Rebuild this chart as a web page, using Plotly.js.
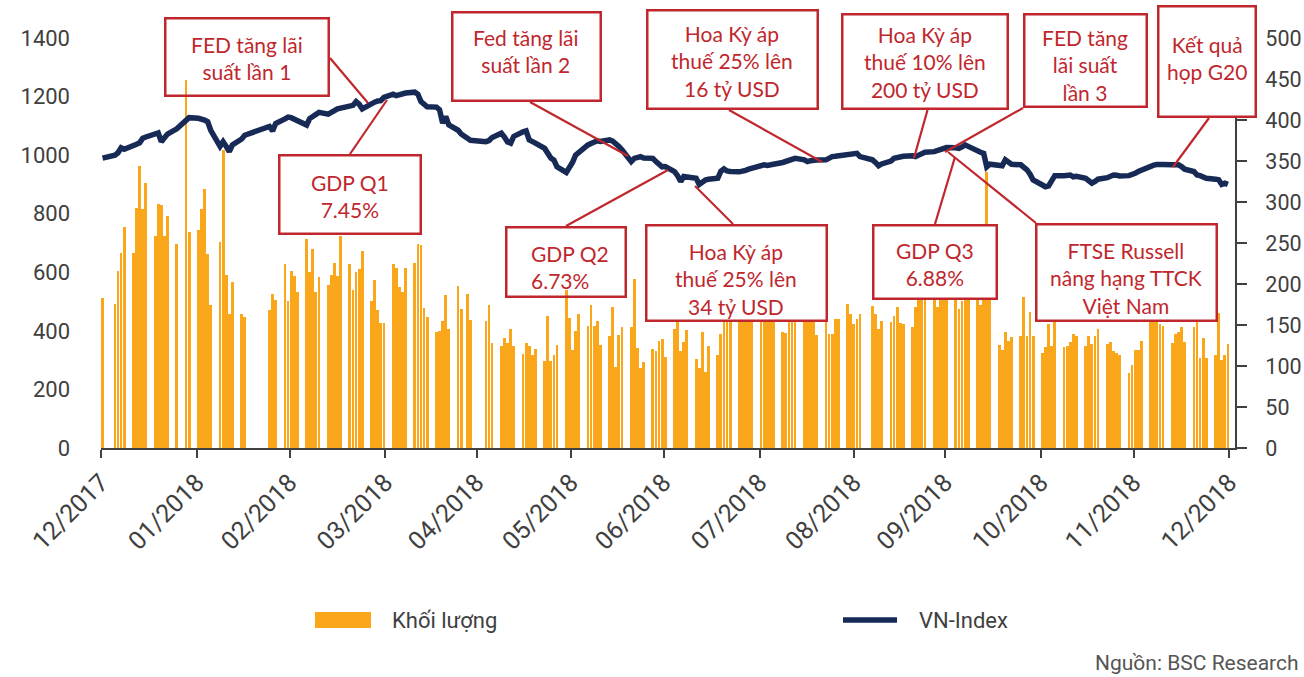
<!DOCTYPE html>
<html>
<head>
<meta charset="utf-8">
<script src="https://cdn.plot.ly/plotly-3.0.1.min.js"></script>
<style>
html,body{margin:0;padding:0;background:#fff;}
#chart{width:1304px;height:677px;}
</style>
</head>
<body>
<div id="chart"></div>
<script>
// ---------------- DATA ----------------
const monthKeys = ['2017-12','2018-01','2018-02','2018-03','2018-04','2018-05','2018-06',
                   '2018-07','2018-08','2018-09','2018-10','2018-11','2018-12'];
const tradingDayNumbers = [
  [29],
  [2,3,4,5,8,9,10,11,12,15,16,17,18,19,22,23,24,25,26,29,30,31],
  [1,2,5,6,7,8,9,12,13,21,22,23,26,27,28],
  [1,2,5,6,7,8,9,12,13,14,15,16,19,20,21,22,23,26,27,28,29,30],
  [2,3,4,5,6,9,10,11,12,13,16,17,18,19,20,23,24,26,27],
  [2,3,4,7,8,9,10,11,14,15,16,17,18,21,22,23,24,25,28,29,30,31],
  [1,4,5,6,7,8,11,12,13,14,15,18,19,20,21,22,25,26,27,28,29],
  [2,3,4,5,6,9,10,11,12,13,16,17,18,19,20,23,24,25,26,27,30,31],
  [1,2,3,6,7,8,9,10,13,14,15,16,17,20,21,22,23,24,27,28,29,30,31],
  [4,5,6,7,10,11,12,13,14,17,18,19,20,21,24,25,26,27,28],
  [1,2,3,4,5,8,9,10,11,12,15,16,17,18,19,22,23,24,25,26,29,30,31],
  [1,2,5,6,7,8,9,12,13,14,15,16,19,20,21,22,23,26,27,28,29,30],
  [3,4,5,6,7,10,11,12,13,14,17,18,19,20,21,24,25,26,27,28]
];
// VN-Index (left axis)
const vnIndexByMonth = [
  [990],
  [1000,1008,1025,1020, 1030,1037,1042,1058,1062, 1070,1076,1046,1060,1072, 1090,1100,1112,1120,1128, 1126,1124,1120],
  [1114,1085, 1030,1046,1030,1012,1035, 1055,1068, 1098,1083,1108, 1124,1130,1128],
  [1122,1120, 1103,1125,1132,1140,1146, 1140,1148,1152,1158,1160, 1165,1170,1183,1174,1158, 1178,1181,1185,1186,1197],
  [1208,1203,1206,1211,1212, 1215,1208,1183,1172,1165, 1164,1155,1109,1132,1103, 1085,1072,1060,1051],
  [1046,1050,1060, 1075,1062,1045,1041,1064, 1080,1083,1052,1048,1041, 1023,1005,990,983,960, 941,957,975,1000],
  [1010, 1035,1040,1046,1049,1047, 1052,1048,1041,1030,1018, 978,989,992,995,990, 989,978,970,960,961],
  [944,930,910,927,925, 921,900,908,915,918, 921,945,953,946,944, 943,944,948,952,955, 960,967],
  [965,968,969, 975,978,984,986,989, 984,978,981,980,983, 984,990,995,996,998, 1001,1004,1008,1006,995],
  [984,975,964,970, 980,989,992,995,996, 998,995,1000,1006,1010, 1012,1015,1018,1022,1026],
  [1025,1023,1028,1035,1030, 1012,1010,1006,960,969, 966,964,984,975,969, 967,960,950,935,915, 898,892,895],
  [912,930, 930,931,932,926,928, 921,912,904,910,918, 923,928,932,931,929, 930,933,938,944,949],
  [964,966,968,969,968, 967,967,967,961,952, 944,932,930,927,921, 918,916,900,904,900]
];
// Khối lượng (right axis)
const volumeByMonth = [
  [183],
  [176,216,238,269, 238,293,344,292,323, 259,297,296,259,283, 249,null,null,449,264, 266,292,316],
  [236,175, 251,363,211,163,202, 164,160, 168,188,180, 224,179,216],
  [210,190, 255,215,243,190,208, 199,211,226,210,259, 225,193,215,218,240, 179,205,168,153,153],
  [224,220,196,190,220, 226,249,248,171,160, 141,143,155,186,145, 197,169,188,156],
  [155,174,128, 125,134,128,145,125, 115,128,124,113,121, 106,161,106,114,126, 193,159,120,143],
  [163, 149,174,149,155,126, 136,172,99,138,147, 148,206,122,97,105, 121,118,130,133,111],
  [145,170,118,129,144, 109,97,141,93,125, 114,139,175,190,168, 180,200,172,185,165, 190,178],
  [170,185,160, 142,140,160,165,158, 170,182,175,160,138, 169,139,139,157,157, 176,164,151,157,164],
  [173,163,145,155, 154,161,172,152,151, 148,172,180,205,195, 190,172,200,185,210],
  [195,170,179,190,188, 195,174,200,337,190, 126,120,141,131,135, 136,184,136,166,137, 116,123,151],
  [125,180, 123,125,129,139,136, 125,136,127,137,145, 127,129,118,116,114, 92,101,120,120,130],
  [195,185,170,151,149, 128,139,141,147,129, 147,170,110,134,110, 113,165,107,114,127]
];
const xTickVals = ['2017-12-29','2018-01-29','2018-02-28','2018-03-31','2018-04-29 12:00','2018-05-30',
                   '2018-06-29','2018-07-30','2018-08-29 12:00','2018-09-28','2018-10-29','2018-11-28','2018-12-29'];
const xTickText = ['12/2017','01/2018','02/2018','03/2018','04/2018','05/2018','06/2018',
                   '07/2018','08/2018','09/2018','10/2018','11/2018','12/2018'];
const seriesNames = ['Khối lượng','VN-Index'];
const sourceText = 'Nguồn: BSC Research';
const calloutTexts = [
  'FED tăng lãi<br>suất lần 1',
  'Fed tăng lãi<br>suất lần 2',
  'Hoa Kỳ áp<br>thuế 25% lên<br>16 tỷ USD',
  'Hoa Kỳ áp<br>thuế 10% lên<br>200 tỷ USD',
  'FED tăng<br>lãi suất<br>lần 3',
  'Kết quả<br>họp G20',
  'GDP Q1<br>7.45%',
  'GDP Q2<br>6.73%',
  'Hoa Kỳ áp<br>thuế 25% lên<br>34 tỷ USD',
  'GDP Q3<br>6.88%',
  'FTSE Russell<br>nâng hạng TTCK<br>Việt Nam'
];

// ---------------- BUILD ----------------
const dates = [];
monthKeys.forEach((m,i)=>tradingDayNumbers[i].forEach(d=>dates.push(m+'-'+String(d).padStart(2,'0'))));
const vnIndex = vnIndexByMonth.flat();
const volume = volumeByMonth.flat();

// layout geometry (pixels)
const L=101, T=38, W=1134, H=410;
const X = px => (px-L)/W;
const Y = py => (T+H-py)/H;

const RED='#c0272d', NAVY='#172a56', ORANGE='#F9A61B', GREY='#404040';

// box geometry: [cx, cy, w, h, transparent]
const boxGeom = [
  [247,57.3,166,80,true],
  [526,56.2,151,91,false],
  [732.4,59.7,173.3,100.7,false],
  [925,61.3,168,97.3,false],
  [1085.4,60.3,124.7,95.3,false],
  [1207,61.5,100,113,false],
  [349.5,194.5,144.3,81,false],
  [566,262,121.7,72,true],
  [736.4,273.3,182.7,97.5,false],
  [934.7,262,126,76,false],
  [1126.4,272.8,182.7,99,false]
];
// text placement inside boxes: [x, cy, anchor]
const textGeom = [
  [247,57.5,'center'],[526,51,'center'],[732.4,60.5,'center'],[925,61.5,'center'],
  [1085.4,65,'center'],[1207,57.5,'center'],[349.5,195.5,'center'],[530,267,'left'],
  [736.4,279,'center'],[934.7,264,'center'],[1126.4,277.5,'center']
];
// connector lines: tail (box edge) -> head (index line)
const connectors = [
  [330,58,368,103],[530,102,628,156],[729,110,822,162],[927.5,110,914,158],
  [1023,108,945,152],[1209,118,1173,167],[350,154,387,100],[566,226,668,170],
  [733,224,695,186],[935,224,955,157],[1036,223,948,152]
];

const BW=2.5, PAD=0;
const annotations = [];
boxGeom.forEach(g=>{
  annotations.push({
    xref:'paper', yref:'paper', x:X(g[0]), y:Y(g[1]), xanchor:'center', yanchor:'middle',
    text:' ', showarrow:false,
    width:g[2]-2*(BW+PAD), height:g[3]-2*(BW+PAD),
    bgcolor: g[4] ? 'rgba(255,255,255,0)' : '#ffffff',
    bordercolor:RED, borderwidth:BW, borderpad:PAD,
    font:{size:10}
  });
});
calloutTexts.forEach((t,i)=>{
  const g=textGeom[i];
  annotations.push({
    xref:'paper', yref:'paper', x:X(g[0]), y:Y(g[1]), xanchor:g[2], yanchor:'middle',
    text:t, showarrow:false, align:g[2], borderpad:0,
    font:{family:'Lato, "Open Sans", sans-serif', size:21, color:RED}
  });
});
// legend texts
annotations.push({xref:'paper',yref:'paper',x:X(390),y:Y(620),xanchor:'left',yanchor:'middle',showarrow:false,
  text:seriesNames[0],font:{family:'Roboto, sans-serif',size:22,color:GREY}});
annotations.push({xref:'paper',yref:'paper',x:X(917),y:Y(620),xanchor:'left',yanchor:'middle',showarrow:false,
  text:seriesNames[1],font:{family:'Roboto, sans-serif',size:22,color:GREY}});
annotations.push({xref:'paper',yref:'paper',x:X(1301),y:Y(663),xanchor:'right',yanchor:'middle',showarrow:false,
  text:sourceText,font:{family:'Roboto, sans-serif',size:21,color:'#555555'}});

const shapes = connectors.map(c=>({
  type:'line', xref:'paper', yref:'paper', layer:'above',
  x0:X(c[0]), y0:Y(c[1]), x1:X(c[2]), y1:Y(c[3]),
  line:{color:RED, width:2.2}
}));
shapes.push({type:'rect',xref:'paper',yref:'paper',x0:X(315),x1:X(371),y0:Y(628),y1:Y(612),
  fillcolor:ORANGE,line:{width:0}});
shapes.push({type:'line',xref:'paper',yref:'paper',x0:X(843),x1:X(897),y0:Y(620),y1:Y(620),
  line:{color:NAVY,width:5.5}});

const DAY=86400000;
const data = [
  {type:'bar', name:seriesNames[0], x:dates, y:volume, yaxis:'y',
   xperiod:DAY, xperiodalignment:'middle', width:0.9*DAY,
   marker:{color:ORANGE, line:{width:0}}},
  {type:'scatter', mode:'lines', name:seriesNames[1], x:dates, y:vnIndex, yaxis:'y2',
   xperiod:DAY, xperiodalignment:'middle',
   line:{color:NAVY, width:5.5}}
];

const tickFontY = {family:'Roboto, sans-serif', size:22, color:GREY};
const layout = {
  width:1304, height:677,
  margin:{l:L, r:1304-L-W, t:T, b:677-T-H, pad:0},
  paper_bgcolor:'#ffffff', plot_bgcolor:'rgba(0,0,0,0)',
  showlegend:false, bargap:0,
  xaxis:{type:'date', range:['2017-12-29','2018-12-30 19:00'],
    tickmode:'array', tickvals:xTickVals, ticktext:xTickText, tickangle:-45,
    ticks:'outside', ticklen:8, tickwidth:2, tickcolor:GREY,
    showline:true, linecolor:GREY, linewidth:2, showgrid:false, zeroline:false,
    tickfont:{family:'Roboto, sans-serif', size:25, color:GREY}, automargin:false},
  yaxis:{side:'right', range:[0,500], dtick:50, tick0:0,
    ticks:'outside', ticklen:10, tickwidth:2, tickcolor:GREY,
    showline:true, linecolor:GREY, linewidth:2, showgrid:false, zeroline:false,
    tickfont:{family:'Roboto, sans-serif', size:21.5, color:GREY}, ticklabelstandoff:14, automargin:false},
  yaxis2:{overlaying:'y', side:'left', range:[0,1400], dtick:200, tick0:0,
    ticks:'', showline:false, showgrid:false, zeroline:false,
    tickfont:tickFontY, ticklabelstandoff:30, automargin:false},
  yaxis3:{overlaying:'y', side:'left', range:[0,500], dtick:50, tick0:0,
    ticks:'outside', ticklen:8, tickwidth:2, tickcolor:GREY,
    showline:true, linecolor:GREY, linewidth:2, showgrid:false, zeroline:false,
    showticklabels:false, automargin:false},
  annotations:annotations,
  shapes:shapes
};

Plotly.newPlot('chart', data, layout, {displayModeBar:false, responsive:false});
</script>
</body>
</html>
